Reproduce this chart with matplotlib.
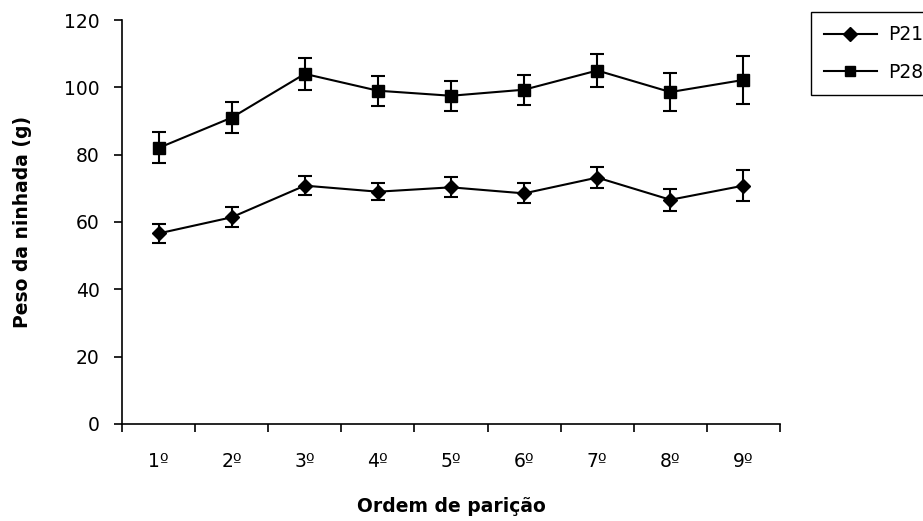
import numpy as np
import matplotlib
matplotlib.use("Agg")
import matplotlib.pyplot as plt
from matplotlib.lines import Line2D

plt.rcParams.update({
    "font.family": ["DejaVu Sans"],
    "font.size": 13.5,
})

# data
ordem = ["1º", "2º", "3º", "4º", "5º", "6º", "7º", "8º", "9º"]
p21 = [56.6, 61.4, 70.8, 69.0, 70.3, 68.5, 73.2, 66.6, 70.8]
p21_err = [2.7, 3.0, 2.9, 2.6, 3.0, 3.0, 3.2, 3.3, 4.5]
p28 = [82.0, 91.0, 104.0, 99.0, 97.5, 99.3, 105.0, 98.6, 102.2]
p28_err = [4.6, 4.5, 4.8, 4.5, 4.4, 4.4, 5.0, 5.6, 7.1]

x = np.arange(1, len(ordem) + 1)

fig = plt.figure(figsize=(9.23, 5.21), dpi=100)
ax = fig.add_axes([0.1322, 0.1862, 0.7129, 0.7754])

kw = dict(color="black", lw=1.5, capsize=5, capthick=1.5, elinewidth=1.5)
ax.errorbar(x, p21, yerr=p21_err, fmt="-D", ms=7.5, **kw)
ax.errorbar(x, p28, yerr=p28_err, fmt="-s", ms=8, **kw)

ax.set_xlim(0.5, len(ordem) + 0.5)
ax.set_ylim(0, 120)
ax.set_yticks(np.arange(0, 121, 20))
ax.set_xticks(np.arange(0.5, len(ordem) + 1, 1))
ax.set_xticklabels([])
ax.set_xticks(x, minor=True)
ax.set_xticklabels(ordem, minor=True)
ax.tick_params(axis="x", which="minor", length=0, pad=20)
ax.tick_params(axis="both", which="major", direction="out", length=6,
               width=1.2, labelsize=13.5)
ax.tick_params(axis="y", pad=10)
for s in ("top", "right"):
    ax.spines[s].set_visible(False)
for s in ("left", "bottom"):
    ax.spines[s].set_linewidth(1.2)

ax.set_ylabel("Peso da ninhada (g)", fontweight="bold", labelpad=23)
ax.set_xlabel("Ordem de parição", fontweight="bold", labelpad=19)

handles = [Line2D([], [], color="black", lw=1.5, marker="D", ms=7),
           Line2D([], [], color="black", lw=1.5, marker="s", ms=7)]
leg = fig.legend(handles=handles, labels=["P21", "P28"], loc="upper left",
                 bbox_to_anchor=(811 / 923, 1 - 12 / 521), fancybox=False,
                 edgecolor="black", framealpha=1, fontsize=13.5,
                 handlelength=2.8, handletextpad=0.6, borderpad=0.7,
                 labelspacing=1.0, borderaxespad=0)
leg.get_frame().set_linewidth(1.0)

fig.savefig("out.png", dpi=100)
